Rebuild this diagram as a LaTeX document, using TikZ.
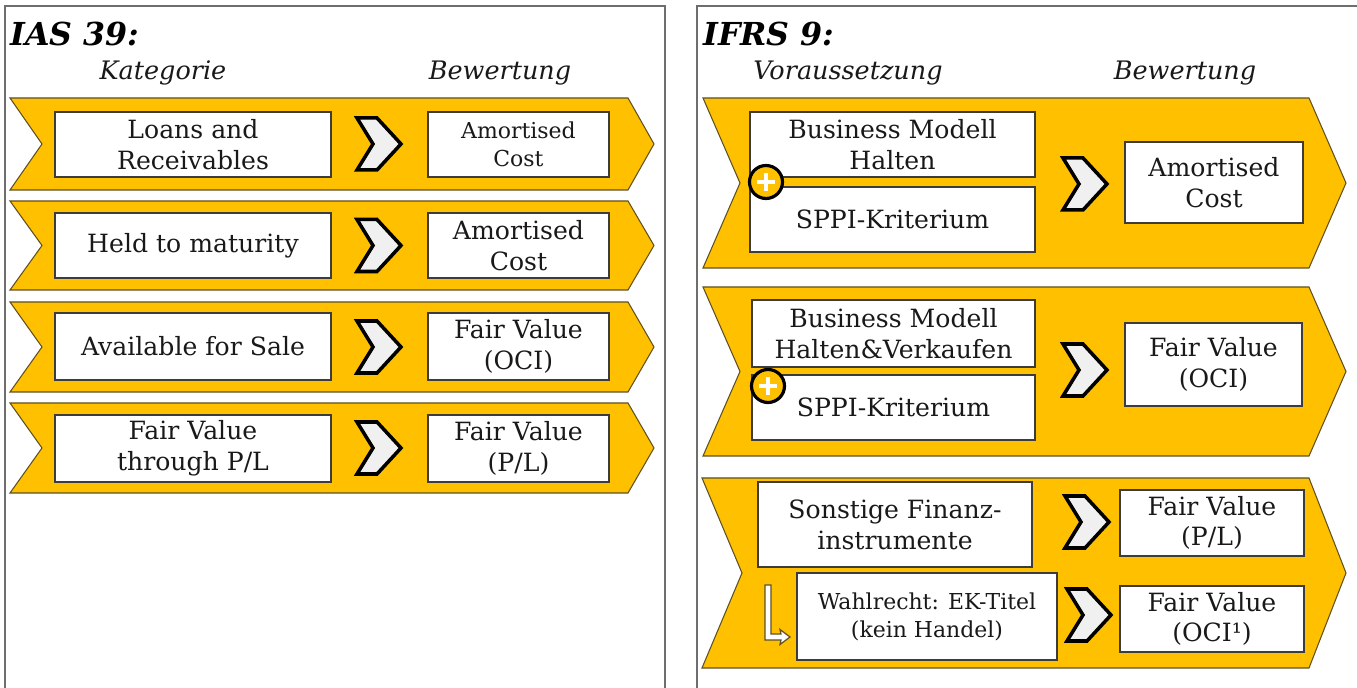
\documentclass[tikz,border=0pt]{standalone}
\usepackage{fontspec}
\setmainfont{DejaVu Serif}
\definecolor{gold}{RGB}{255,192,0}
\definecolor{chevline}{RGB}{95,80,35}
\definecolor{boxline}{RGB}{60,60,60}
\definecolor{ink}{RGB}{25,25,25}
\definecolor{framegray}{RGB}{110,110,110}

\begin{document}
\begin{tikzpicture}[x=0.02cm,y=-0.02cm,
  panel/.style={draw=framegray, line width=1pt},
  chev/.style={fill=gold, draw=chevline, line width=0.6pt, line join=miter},
  box/.style={draw=boxline, fill=white, line width=1pt, inner sep=0pt,
    align=center, text=ink, font=\fontsize{14.3}{17.5}\selectfont},
  smallbox/.style={box, font=\fontsize{12.5}{16}\selectfont},
  cell/.style 2 args={minimum width=#1*0.02cm, minimum height=#2*0.02cm},
  head/.style={font=\fontsize{18}{22}\selectfont\bfseries\itshape,
    anchor=base west, text=black, inner sep=0pt},
  colhead/.style={font=\fontsize{14.5}{17}\selectfont\itshape,
    anchor=base, text=ink, inner sep=0pt},
  arrowchev/.style={fill=gray!12, draw=black, line width=2pt, line join=miter},
  plus/.style={circle, fill=gold, draw=black, line width=1.8pt,
    minimum size=0.66cm, inner sep=0pt},
  plusbar/.style={white, line width=2pt},
  pics/nextstep/.style={code={
    \draw[arrowchev] (-22,-26) -- (-2,-26) -- (22,0) -- (-2,26)
      -- (-22,26) -- (-6,0) -- cycle;}}
]
\useasboundingbox (0,0) rectangle (1357,688);
\clip (0,0) rectangle (1357,688);
\fill[white] (0,0) rectangle (1357,688);

% ---------- frames ----------
\draw[panel] (5,6) rectangle (665,720);
\draw[panel] (697,6) rectangle (1380,720);

% ---------- IAS 39 ----------
\node[head] (ias) at (10,46) {IAS 39:};
\node[colhead] (kat) at (163,80) {Kategorie};
\node[colhead] (bew1) at (500,80) {Bewertung};

% ribbons
\path[chev] (10,98)  -- (628,98)  -- (654,144)   -- (628,190) -- (10,190) -- (42,144)   -- cycle;
\path[chev] (10,201) -- (628,201) -- (654,245.5) -- (628,290) -- (10,290) -- (42,245.5) -- cycle;
\path[chev] (10,302) -- (628,302) -- (654,347)   -- (628,392) -- (10,392) -- (42,347)   -- cycle;
\path[chev] (10,403) -- (628,403) -- (654,448)   -- (628,493) -- (10,493) -- (42,448)   -- cycle;

% categories and measurement
\node[box, cell={276}{65}] (lr) at (193,144.5) {Loans and\\Receivables};
\node[smallbox, cell={181}{65}] (lrv) at (518.5,144.5) {Amortised\\Cost};
\node[box, cell={276}{65}] (htm) at (193,245.5) {Held to maturity};
\node[box, cell={181}{65}] (htmv) at (518.5,245.5) {Amortised\\Cost};
\node[box, cell={276}{67}] (afs) at (193,346.5) {Available for Sale};
\node[box, cell={181}{67}] (afsv) at (518.5,346.5) {Fair Value\\(OCI)};
\node[box, cell={276}{67}] (fvpl) at (193,448.5) {Fair Value\\through P/L};
\node[box, cell={181}{67}] (fvplv) at (518.5,448.5) {Fair Value\\(P/L)};

\pic at (379,144)   {nextstep};
\pic at (379,245.5) {nextstep};
\pic at (379,347)   {nextstep};
\pic at (379,448)   {nextstep};

% ---------- IFRS 9 ----------
\node[head] (ifrs) at (703,46) {IFRS 9:};
\node[colhead] (vor) at (848,80) {Voraussetzung};
\node[colhead] (bew2) at (1185,80) {Bewertung};

\path[chev] (703,98)  -- (1309,98)  -- (1346,183)   -- (1309,268) -- (703,268) -- (740,183)   -- cycle;
\path[chev] (703,287) -- (1309,287) -- (1346,371.5) -- (1309,456) -- (703,456) -- (740,371.5) -- cycle;
\path[chev] (702,478) -- (1309,478) -- (1346,573)   -- (1309,668) -- (702,668) -- (742,573)   -- cycle;

% hold to collect
\node[box, cell={285}{65}] (bmh) at (892.5,144.5) {Business Modell\\Halten};
\node[box, cell={285}{65}] (sppi1) at (892.5,219.5) {SPPI-Kriterium};
\node[box, cell={178}{81}] (ac) at (1214,182.5) {Amortised\\Cost};
\node[plus] (p1) at (766,182) {};
\draw[plusbar] ([xshift=-0.18cm]p1.center) -- ([xshift=0.18cm]p1.center);
\draw[plusbar] ([yshift=-0.18cm]p1.center) -- ([yshift=0.18cm]p1.center);
\pic at (1085,184) {nextstep};

% hold to collect and sell
\node[box, cell={283}{67}] (bmhv) at (893.5,333.5) {Business Modell\\Halten\&Verkaufen};
\node[box, cell={283}{65}] (sppi2) at (893.5,407.5) {SPPI-Kriterium};
\node[box, cell={177}{83}] (oci) at (1213.5,364.5) {Fair Value\\(OCI)};
\node[plus] (p2) at (768,386) {};
\draw[plusbar] ([xshift=-0.18cm]p2.center) -- ([xshift=0.18cm]p2.center);
\draw[plusbar] ([yshift=-0.18cm]p2.center) -- ([yshift=0.18cm]p2.center);
\pic at (1085,370) {nextstep};

% other instruments
\node[box, cell={274}{85}] (sonst) at (895,524.5) {Sonstige Finanz-\\instrumente};
\node[box, cell={184}{66}] (fvpl2) at (1212,523) {Fair Value\\(P/L)};
\node[smallbox, cell={260}{87}] (wahl) at (927,616.5) {Wahlrecht: EK-Titel\\(kein Handel)};
\node[box, cell={184}{66}] (oci2) at (1212,619) {Fair Value\\(OCI¹)};
\pic at (1087,522) {nextstep};
\pic at (1089,615) {nextstep};

% option arrow
\filldraw[fill=white, draw=chevline, line width=0.7pt, line join=miter]
  (765,585) -- (771,585) -- (771,634) -- (781,634) -- (780,629.5)
  -- (790,637) -- (780,644.5) -- (781,640) -- (765,640) -- cycle;
\end{tikzpicture}
\end{document}
